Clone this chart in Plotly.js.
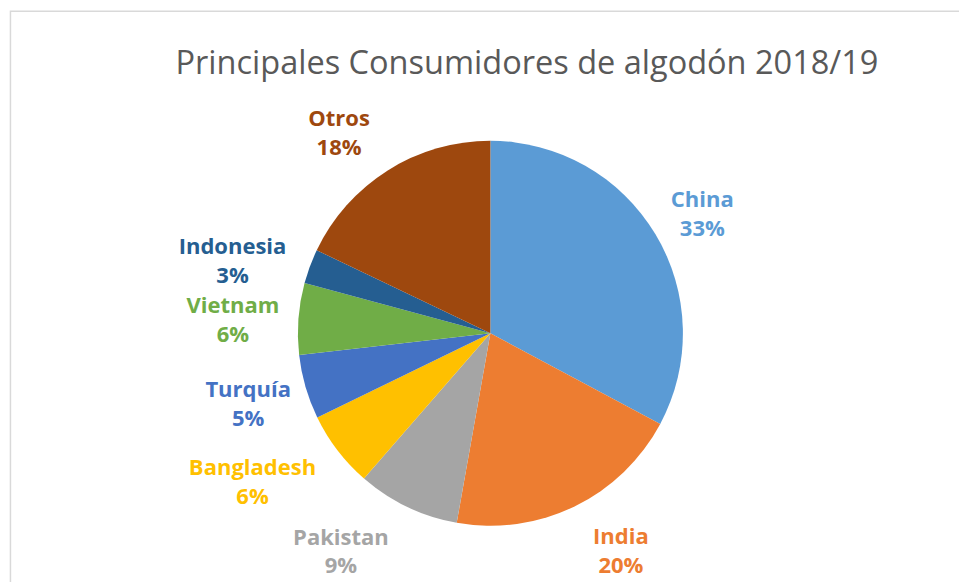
<!DOCTYPE html>
<html>
<head>
<meta charset="utf-8">
<script src="https://cdn.plot.ly/plotly-3.0.1.min.js"></script>
<style>html,body{margin:0;padding:0;background:#fff;}#chart{width:959px;height:582px;}</style>
</head>
<body>
<div id="chart"></div>
<script>
const categories = ["China", "India", "Pakistan", "Bangladesh", "Turquía", "Vietnam", "Indonesia", "Otros"];
const shares = [32.8, 20.0, 8.6, 6.4, 5.4, 6.0, 2.9, 17.9];
const sliceColors = ["#5B9BD5", "#ED7D31", "#A5A5A5", "#FFC000", "#4472C4", "#70AD47", "#255E91", "#9E480E"];
const chartTitle = "Principales Consumidores de algodón 2018/19";

// label styling: radius (px) of the transparent ring that carries each outside label, and a spacer line
const labelRadius = [185, 185, 185, 192, 185, 197, 202, 185];
const labelPad = ["below", "above", "above", "above", "above", "none", "none", "below"];

const W = 959, H = 582;
const pieCenter = { x: 490.4, y: 333.3 };   // px from top-left
const pieRadius = 192.5;

function domainFor(r) {
  return {
    x: [(pieCenter.x - r) / W, (pieCenter.x + r) / W],
    y: [(H - pieCenter.y - r) / H, (H - pieCenter.y + r) / H]
  };
}

const NB = "\u00a0";
const baseTpl = "%{label}<br>%{percent:.0%}";
const tpl = labelPad.map(p => p === "below" ? baseTpl + "<br>" + NB : (p === "above" ? NB + "<br>" + baseTpl : baseTpl));
const clear = categories.map(() => "rgba(0,0,0,0)");

const common = {
  type: "pie",
  labels: categories,
  values: shares,
  sort: false,
  direction: "clockwise",
  rotation: 0
};

// visible pie, no text
const pieTrace = Object.assign({}, common, {
  marker: { colors: sliceColors, line: { width: 0 } },
  textinfo: "none",
  hoverinfo: "label+percent",
  domain: domainFor(pieRadius)
});

// transparent rings carrying the outside data labels
const radii = [...new Set(labelRadius)];
const labelTraces = radii.map(r => Object.assign({}, common, {
  marker: { colors: clear, line: { width: 0 } },
  textposition: labelRadius.map(v => v === r ? "outside" : "none"),
  texttemplate: tpl,
  textfont: { family: "Open Sans, sans-serif", size: 22, weight: "bold", color: sliceColors },
  hoverinfo: "skip",
  domain: domainFor(r)
}));

const layout = {
  width: W,
  height: H,
  margin: { l: 0, r: 0, t: 0, b: 0 },
  paper_bgcolor: "#ffffff",
  showlegend: false,
  title: {
    text: chartTitle,
    x: 0.5495, xanchor: "center",
    y: 0.892, yanchor: "middle", yref: "container",
    font: { family: "Open Sans, sans-serif", size: 32.5, color: "#595959" }
  },
  shapes: [{
    type: "rect", xref: "paper", yref: "paper",
    x0: 0.0109, x1: 1.2, y0: -0.2, y1: 0.9808,
    line: { color: "#D9D9D9", width: 1.5 }
  }]
};

Plotly.newPlot("chart", [pieTrace].concat(labelTraces), layout, { displayModeBar: false, staticPlot: true });
</script>
</body>
</html>
